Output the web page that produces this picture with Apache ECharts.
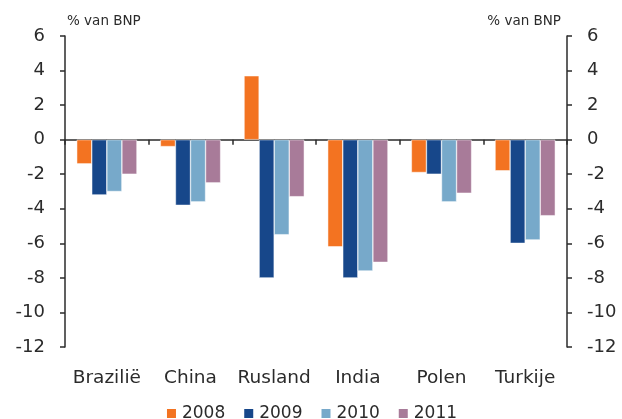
<!DOCTYPE html>
<html>
<head>
<meta charset="utf-8">
<script src="https://cdn.jsdelivr.net/npm/echarts@6/dist/echarts.min.js"></script>
<style>
  html, body { margin: 0; padding: 0; background: #fff; }
  #chart { width: 622px; height: 419px; }
</style>
</head>
<body>
<div id="chart"></div>
<script>
// categorieën en waarden (% van BNP)
const landen = ['Brazilië', 'China', 'Rusland', 'India', 'Polen', 'Turkije']
const jaren = ['2008', '2009', '2010', '2011']
const s2008 = [-1.4, -0.4, 3.7, -6.2, -1.9, -1.8]
const s2009 = [-3.2, -3.8, -8.0, -8.0, -2.0, -6.0]
const s2010 = [-3.0, -3.6, -5.5, -7.6, -3.6, -5.8]
const s2011 = [-2.0, -2.5, -3.3, -7.1, -3.1, -4.4]
const kleuren = ['#F37321', '#17478A', '#77A9CA', '#A87B99']

const font = 'DejaVu Sans'
const ink = '#2b2b2b'

const chart = echarts.init(document.getElementById('chart'))

function yAs (pos) {
  return {
    type: 'value',
    position: pos,
    min: -12,
    max: 6,
    interval: 2,
    name: '% van BNP',
    nameLocation: 'end',
    nameGap: 8,
    nameTextStyle: {
      fontFamily: font,
      fontSize: 13.5,
      color: ink,
      align: pos === 'left' ? 'left' : 'right',
      padding: pos === 'left' ? [0, 0, 0, 2] : [0, 6, 0, 0]
    },
    axisLine: { show: true, lineStyle: { color: ink, width: 1.5 } },
    axisTick: { show: true, length: 5, lineStyle: { color: ink, width: 1.5 } },
    axisLabel: { fontFamily: font, fontSize: 18, color: ink, margin: 20 },
    splitLine: { show: false }
  }
}

chart.setOption({
  animation: false,
  color: kleuren,
  grid: { left: 65, right: 55, top: 36, bottom: 72 },
  legend: {
    data: jaren,
    top: 400,
    left: 'center',
    itemWidth: 11,
    itemHeight: 11,
    itemGap: 17,
    icon: 'rect',
    textStyle: { fontFamily: font, fontSize: 17, color: ink }
  },
  xAxis: [
    {
      type: 'category',
      data: landen,
      position: 'bottom',
      axisLine: { show: false, onZero: false },
      axisTick: { show: false },
      axisLabel: { fontFamily: font, fontSize: 18.5, color: ink, margin: 22, interval: 0, hideOverlap: false }
    },
    {
      type: 'category',
      data: landen,
      position: 'bottom',
      axisLine: { show: true, onZero: true, lineStyle: { color: ink, width: 1.5 } },
      axisTick: { show: true, length: 5, lineStyle: { color: ink, width: 1.5 } },
      axisLabel: { show: false }
    }
  ],
  yAxis: [yAs('left'), yAs('right')],
  series: [s2008, s2009, s2010, s2011].map((d, i) => ({
    name: jaren[i],
    type: 'bar',
    data: d,
    xAxisIndex: 0,
    yAxisIndex: 0,
    barGap: '0%',
    barCategoryGap: '28%',
    itemStyle: { color: kleuren[i], borderColor: '#fff', borderWidth: 0.5 }
  }))
})
</script>
</body>
</html>
